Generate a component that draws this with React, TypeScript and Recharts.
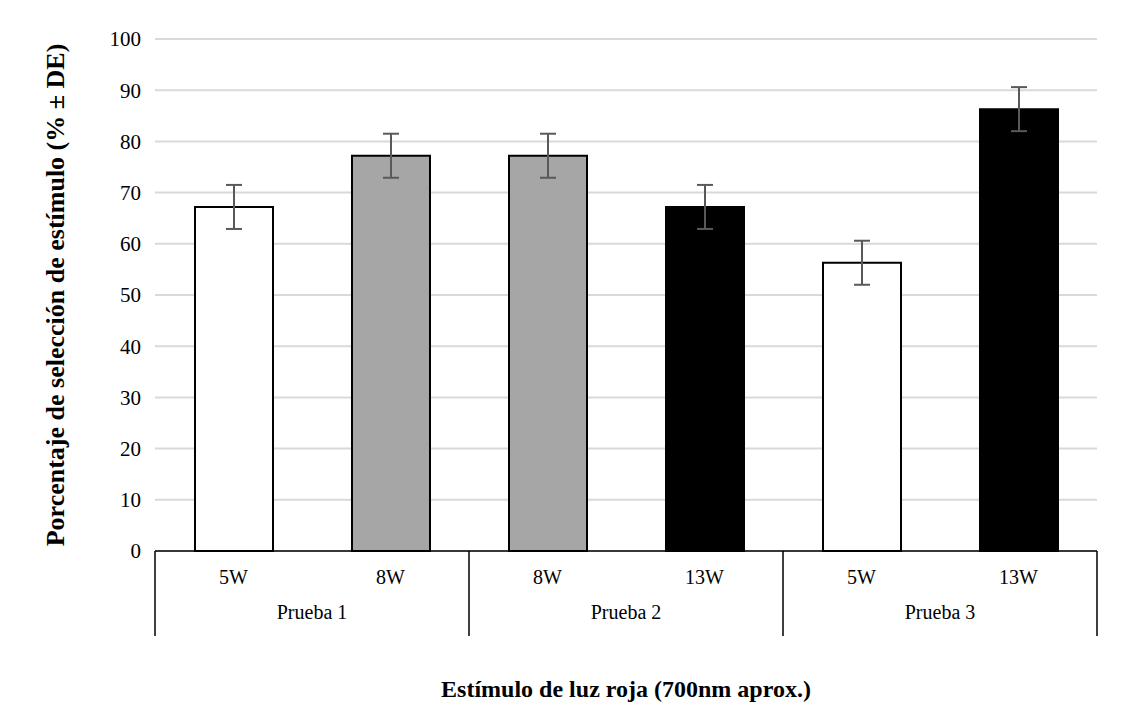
import React from 'react';
import {
  BarChart,
  Bar,
  Cell,
  XAxis,
  YAxis,
  CartesianGrid,
  ErrorBar,
  Label,
  Customized,
} from 'recharts';

// estímulo por barra, prueba a la que pertenece, media y DE
const stimuli = ['5W', '8W', '8W', '13W', '5W', '13W'];
const trials = ['Prueba 1', 'Prueba 1', 'Prueba 2', 'Prueba 2', 'Prueba 3', 'Prueba 3'];
const means = [67.2, 77.2, 77.2, 67.2, 56.3, 86.3];
const sds = [4.3, 4.3, 4.3, 4.3, 4.3, 4.3];
const yTicks = [0, 10, 20, 30, 40, 50, 60, 70, 80, 90, 100];

const data = stimuli.map((s, i) => ({
  stimulus: s,
  trial: trials[i],
  value: means[i],
  sd: sds[i],
}));

const fillFor: Record<string, string> = {
  '5W': '#ffffff',
  '8W': '#a6a6a6',
  '13W': '#000000',
};

const W = 1131;
const H = 719;
const margin = { top: 39, right: 34, bottom: 8, left: 5 };
const yAxisWidth = 150;
const xAxisHeight = 160;
const plotWidth = W - margin.left - margin.right - yAxisWidth;
const band = plotWidth / data.length;
const font = '"Liberation Serif", "Times New Roman", serif';

function GroupedTick(props: any) {
  const { x, y, index, payload } = props;
  const i = index ?? payload.index;
  const d = data[i];
  const lineLen = 85;
  return (
    <g>
      <text
        x={x}
        y={y + 33}
        textAnchor="middle"
        fontFamily={font}
        fontSize={20}
        fill="#000"
      >
        {payload.value}
      </text>
      {i % 2 === 0 && (
        <>
          <line
            x1={x - band / 2}
            x2={x - band / 2}
            y1={y}
            y2={y + lineLen}
            stroke="#000"
            strokeWidth={1.5}
          />
          <text
            x={x + band / 2}
            y={y + 68}
            textAnchor="middle"
            fontFamily={font}
            fontSize={20}
            fill="#000"
          >
            {d.trial}
          </text>
        </>
      )}
      {i === data.length - 1 && (
        <line
          x1={x + band / 2}
          x2={x + band / 2}
          y1={y}
          y2={y + lineLen}
          stroke="#000"
          strokeWidth={1.5}
        />
      )}
    </g>
  );
}

// marco exterior: sólo se ven los bordes izquierdo y superior
const framePath = `M7,${H} L7,5 L${W},5`;

function Frame() {
  return <path d={framePath} fill="none" stroke="#000" strokeWidth={2} />;
}

export default function App() {
  return (
    <div style={{ width: W, height: H, marginLeft: -8, marginTop: -8 }}>
      <BarChart width={W} height={H} data={data} margin={margin} barSize={78}>
        <CartesianGrid vertical={false} stroke="#d9d9d9" strokeWidth={2} />
        <YAxis
          width={yAxisWidth}
          domain={[0, 100]}
          ticks={yTicks}
          interval={0}
          axisLine={false}
          tickLine={false}
          tickMargin={8}
          tick={{ fontFamily: font, fontSize: 21, fill: '#000' }}
        >
          <Label
            value="Porcentaje de selección de estímulo (% ± DE)"
            angle={-90}
            position="center"
            dx={-25}
            style={{
              fontFamily: font,
              fontSize: 26,
              fontWeight: 'bold',
              fill: '#000',
              textAnchor: 'middle',
            }}
          />
        </YAxis>
        <XAxis
          dataKey="stimulus"
          height={xAxisHeight}
          interval={0}
          tickLine={false}
          tickSize={0}
          tickMargin={0}
          axisLine={{ stroke: '#000', strokeWidth: 1.5 }}
          tick={<GroupedTick />}
        >
          <Label
            value="Estímulo de luz roja (700nm aprox.)"
            position="insideBottom"
            offset={14}
            style={{
              fontFamily: font,
              fontSize: 24,
              fontWeight: 'bold',
              fill: '#000',
            }}
          />
        </XAxis>
        <Bar dataKey="value" stroke="#000" strokeWidth={2} isAnimationActive={false}>
          {data.map((d, i) => (
            <Cell key={`c-${i}`} fill={fillFor[d.stimulus]} />
          ))}
          <ErrorBar
            dataKey="sd"
            width={8}
            stroke="#595959"
            strokeWidth={2}
            isAnimationActive={false}
          />
        </Bar>
        <path d={framePath} fill="none" stroke="#000" strokeWidth={2} />
        <Customized component={<Frame />} />
      </BarChart>
    </div>
  );
}
